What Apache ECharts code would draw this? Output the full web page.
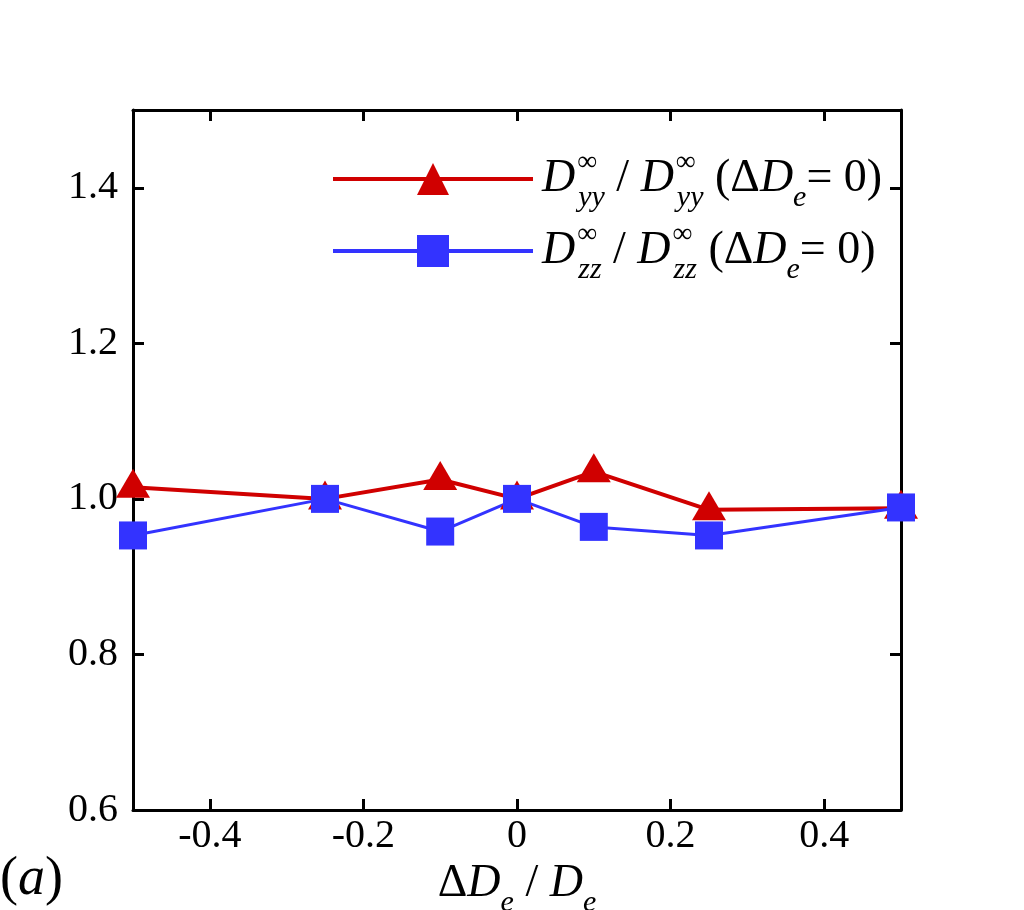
<!DOCTYPE html>
<html>
<head>
<meta charset="utf-8">
<script src="https://cdn.jsdelivr.net/npm/echarts@6/dist/echarts.min.js"></script>
<style>
  html, body { margin: 0; padding: 0; background: #fff; }
  #main { width: 1024px; height: 910px; }
</style>
</head>
<body>
<div id="main"></div>
<script>
// 数据
var deltaDe = [-0.5, -0.25, -0.1, 0, 0.1, 0.25, 0.5];
var dyyRatio = [1.015, 1.0, 1.025, 1.0, 1.035, 0.986, 0.988];
var dzzRatio = [0.953, 1.0, 0.958, 1.0, 0.964, 0.953, 0.989];
var xTicks = [-0.4, -0.2, 0, 0.2, 0.4];
var yTicks = [0.6, 0.8, 1.0, 1.2, 1.4];

var serif = '"Liberation Serif", "DejaVu Serif", serif';
var red = '#d00000';
var blue = '#3333ff';

function pairs(xs, ys) {
  return xs.map(function (x, i) { return [x, ys[i]]; });
}

var myChart = echarts.init(document.getElementById('main'));

// 富文本：上标/下标
var rich = {
  D: { fontFamily: serif, fontStyle: 'italic', fontSize: 46, lineHeight: 68, color: '#000' },
  n: { fontFamily: serif, fontSize: 46, lineHeight: 68, color: '#000' },
  sup: { fontFamily: serif, fontSize: 28, verticalAlign: 'top', width: 1, color: '#000', padding: [4, 0, 0, 2] },
  sub: { fontFamily: serif, fontStyle: 'italic', fontSize: 30, verticalAlign: 'bottom', color: '#000', padding: [0, 0, 0, 0] }
};

var legendNames = {
  yy: '{D|D}{sup|∞}{sub|yy}{n| / }{D|D}{sup|∞}{sub|yy}{n| (Δ}{D|D}{sub|e}{n|= 0)}',
  zz: '{D|D}{sup|∞}{sub|zz}{n| / }{D|D}{sup|∞}{sub|zz}{n| (Δ}{D|D}{sub|e}{n|= 0)}'
};

var axisLineStyle = { color: '#000', width: 3 };

var option = {
  animation: false,
  backgroundColor: '#fff',
  grid: { left: 133, right: 123, top: 110, bottom: 100, outerBoundsMode: 'none' },
  legend: {
    orient: 'vertical',
    left: 326,
    top: 144,
    itemWidth: 200,
    itemHeight: 40,
    itemGap: 8,
    data: ['yy', 'zz'],
    formatter: function (name) { return legendNames[name]; },
    lineStyle: { width: 4 },
    textStyle: { rich: rich, padding: [0, 0, 0, 4] }
  },
  xAxis: [
    {
      type: 'value',
      min: -0.5,
      max: 0.5,
      position: 'bottom',
      axisLine: { show: true, onZero: false, lineStyle: axisLineStyle },
      axisTick: { show: true, inside: true, length: 11, customValues: xTicks, lineStyle: axisLineStyle },
      axisLabel: {
        customValues: xTicks,
        fontFamily: serif, fontSize: 40, color: '#000', margin: 6,
        formatter: function (v) { return String(Math.round(v * 10) / 10); }
      },
      splitLine: { show: false },
      name: '{n|Δ}{D|D}{sub|e}{n| / }{D|D}{sub|e}',
      nameLocation: 'middle',
      nameGap: 38,
      nameTextStyle: { rich: rich }
    },
    {
      type: 'value',
      min: -0.5,
      max: 0.5,
      position: 'top',
      axisLine: { show: true, onZero: false, lineStyle: axisLineStyle },
      axisTick: { show: true, inside: true, length: 11, customValues: xTicks, lineStyle: axisLineStyle },
      axisLabel: { show: false },
      splitLine: { show: false }
    }
  ],
  yAxis: [
    {
      type: 'value',
      min: 0.6,
      max: 1.5,
      position: 'left',
      axisLine: { show: true, onZero: false, lineStyle: axisLineStyle },
      axisTick: { show: true, inside: true, length: 11, customValues: yTicks, lineStyle: axisLineStyle },
      axisLabel: {
        customValues: yTicks,
        fontFamily: serif, fontSize: 40, color: '#000', margin: 15,
        formatter: function (v) { return v.toFixed(1); }
      },
      splitLine: { show: false }
    },
    {
      type: 'value',
      min: 0.6,
      max: 1.5,
      position: 'right',
      axisLine: { show: true, onZero: false, lineStyle: axisLineStyle },
      axisTick: { show: true, inside: true, length: 11, customValues: yTicks, lineStyle: axisLineStyle },
      axisLabel: { show: false },
      splitLine: { show: false }
    }
  ],
  series: [
    {
      name: 'yy',
      type: 'line',
      xAxisIndex: 0,
      yAxisIndex: 0,
      data: pairs(deltaDe, dyyRatio),
      symbol: 'triangle',
      symbolSize: [34, 29],
      symbolOffset: [0, -4],
      showAllSymbol: true,
      clip: false,
      lineStyle: { color: red, width: 4 },
      itemStyle: { color: red, borderWidth: 0 }
    },
    {
      name: 'zz',
      type: 'line',
      xAxisIndex: 0,
      yAxisIndex: 0,
      data: pairs(deltaDe, dzzRatio),
      symbol: 'rect',
      symbolSize: 28,
      showAllSymbol: true,
      clip: false,
      lineStyle: { color: blue, width: 3 },
      itemStyle: { color: blue, borderWidth: 0 }
    }
  ],
  graphic: [
    {
      type: 'text',
      left: 0,
      top: 853,
      style: {
        text: '{n|(}{D|a}{n|)}',
        rich: {
          n: { fontFamily: serif, fontSize: 54, color: '#000' },
          D: { fontFamily: serif, fontStyle: 'italic', fontSize: 54, color: '#000' }
        }
      }
    }
  ]
};

myChart.setOption(option);
window.addEventListener('resize', function () {
  myChart.resize();
});
</script>
</body>
</html>
